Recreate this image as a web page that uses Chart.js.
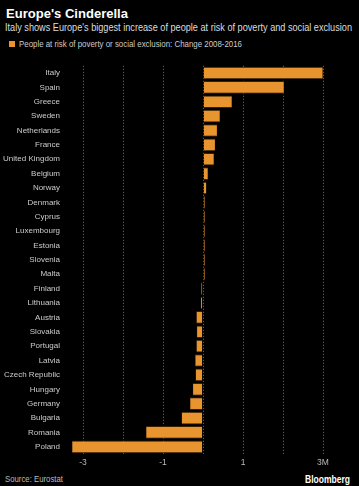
<!DOCTYPE html>
<html>
<head>
<meta charset="utf-8">
<script src="https://cdn.jsdelivr.net/npm/chart.js@4"></script>
<style>
  html, body { margin: 0; padding: 0; background: #000; }
  body { width: 359px; height: 486px; position: relative; overflow: hidden; font-family: 'Liberation Sans', Arial, sans-serif; }
  .txt { position: absolute; white-space: nowrap; display: inline-block; transform-origin: left center; line-height: 1; }
  .title { left: 6px; top: 7px; color: #fff; font-weight: bold; font-size: 13px; }
  .subtitle { left: 5px; top: 22px; color: #ddd; font-size: 10.5px; }
  .legend-box { position: absolute; left: 9px; top: 41px; width: 6px; height: 6px; background: #e8952f; }
  .legend { left: 19px; top: 39px; color: #ccc; font-size: 9.5px; }
  .source { left: 5px; top: 474px; color: #bbb; font-size: 9.5px; }
  .brand { left: 305px; top: 474px; color: #fff; font-weight: bold; font-size: 10.5px; }
  #wrap { position: absolute; left: 0; top: 50px; width: 359px; height: 422px; }
</style>
</head>
<body>
<span class="txt title" data-w="122">Europe's Cinderella</span>
<span class="txt subtitle" data-w="347">Italy shows Europe's biggest increase of people at risk of poverty and social exclusion</span>
<div class="legend-box"></div>
<span class="txt legend" data-w="223">People at risk of poverty or social exclusion: Change 2008-2016</span>
<div id="wrap"><canvas id="chart"></canvas></div>
<span class="txt source" data-w="58">Source: Eurostat</span>
<span class="txt brand" data-w="45">Bloomberg</span>
<script>
const COUNTRIES = [
    'Italy', 'Spain', 'Greece', 'Sweden', 'Netherlands', 'France', 'United Kingdom',
    'Belgium', 'Norway', 'Denmark', 'Cyprus', 'Luxembourg', 'Estonia', 'Slovenia',
    'Malta', 'Finland', 'Lithuania', 'Austria', 'Slovakia', 'Portugal', 'Latvia',
    'Czech Republic', 'Hungary', 'Germany', 'Bulgaria', 'Romania', 'Poland',
];

// change 2008-2016, millions of people
const CHANGE = [
    3.0, 2.03, 0.73, 0.43, 0.36, 0.31, 0.28,
    0.13, 0.09, 0.05, 0.03, 0.03, 0.02, 0.02,
    0.01, -0.02, -0.06, -0.17, -0.16, -0.17, -0.2,
    -0.19, -0.26, -0.33, -0.54, -1.43, -3.28,
];

const TICK_VALUES = [-3, -2, -1, 0, 1, 2, 3];
const TICK_LABELS = ['-3', '', '-1', '', '1', '', '3M'];

const BAR = '#e8952f';
const FONT = "'Liberation Sans', Arial, sans-serif";

// the source font is condensed, squeeze the html texts to its widths
document.querySelectorAll('.txt').forEach((el) => {
    const w = el.getBoundingClientRect().width;
    el.style.transform = `scaleX(${el.dataset.w / w})`;
});

new Chart(document.getElementById('chart'), {
    type: 'bar',
    data: {
        labels: COUNTRIES,
        datasets: [{
            label: 'People at risk of poverty or social exclusion: Change 2008-2016',
            data: CHANGE,
            backgroundColor: BAR,
            borderColor: '#3a1f00',
            borderWidth: { top: 1, bottom: 1, left: 0.5, right: 0.5 },
            borderSkipped: false,
            minBarLength: 2,
            barPercentage: 0.88,
            categoryPercentage: 1,
        }],
    },
    options: {
        indexAxis: 'y',
        responsive: true,
        maintainAspectRatio: false,
        animation: false,
        layout: { padding: { top: 5, right: 28, left: 0, bottom: 0 } },
        plugins: {
            legend: { display: false },
            tooltip: { enabled: false },
        },
        scales: {
            x: {
                min: -3.3,
                max: 3.2,
                afterBuildTicks: (scale) => {
                    scale.ticks = TICK_VALUES.map((v) => ({ value: v }));
                },
                afterFit: (scale) => { scale.height = 18; },
                border: { display: false, dash: [1, 2] },
                grid: {
                    color: 'rgba(255,255,255,0.45)',
                    drawTicks: false,
                },
                ticks: {
                    padding: 4,
                    color: '#bbb',
                    font: { family: FONT, size: 8.5 },
                    maxRotation: 0,
                    autoSkip: false,
                    callback: (v, i) => TICK_LABELS[i],
                },
            },
            y: {
                afterFit: (scale) => { scale.width = 71; },
                border: { display: false },
                grid: { display: false, drawTicks: false },
                ticks: {
                    padding: 11,
                    color: '#ccc',
                    autoSkip: false,
                    font: { family: FONT, size: 8 },
                },
            },
        },
    },
});
</script>
</body>
</html>
